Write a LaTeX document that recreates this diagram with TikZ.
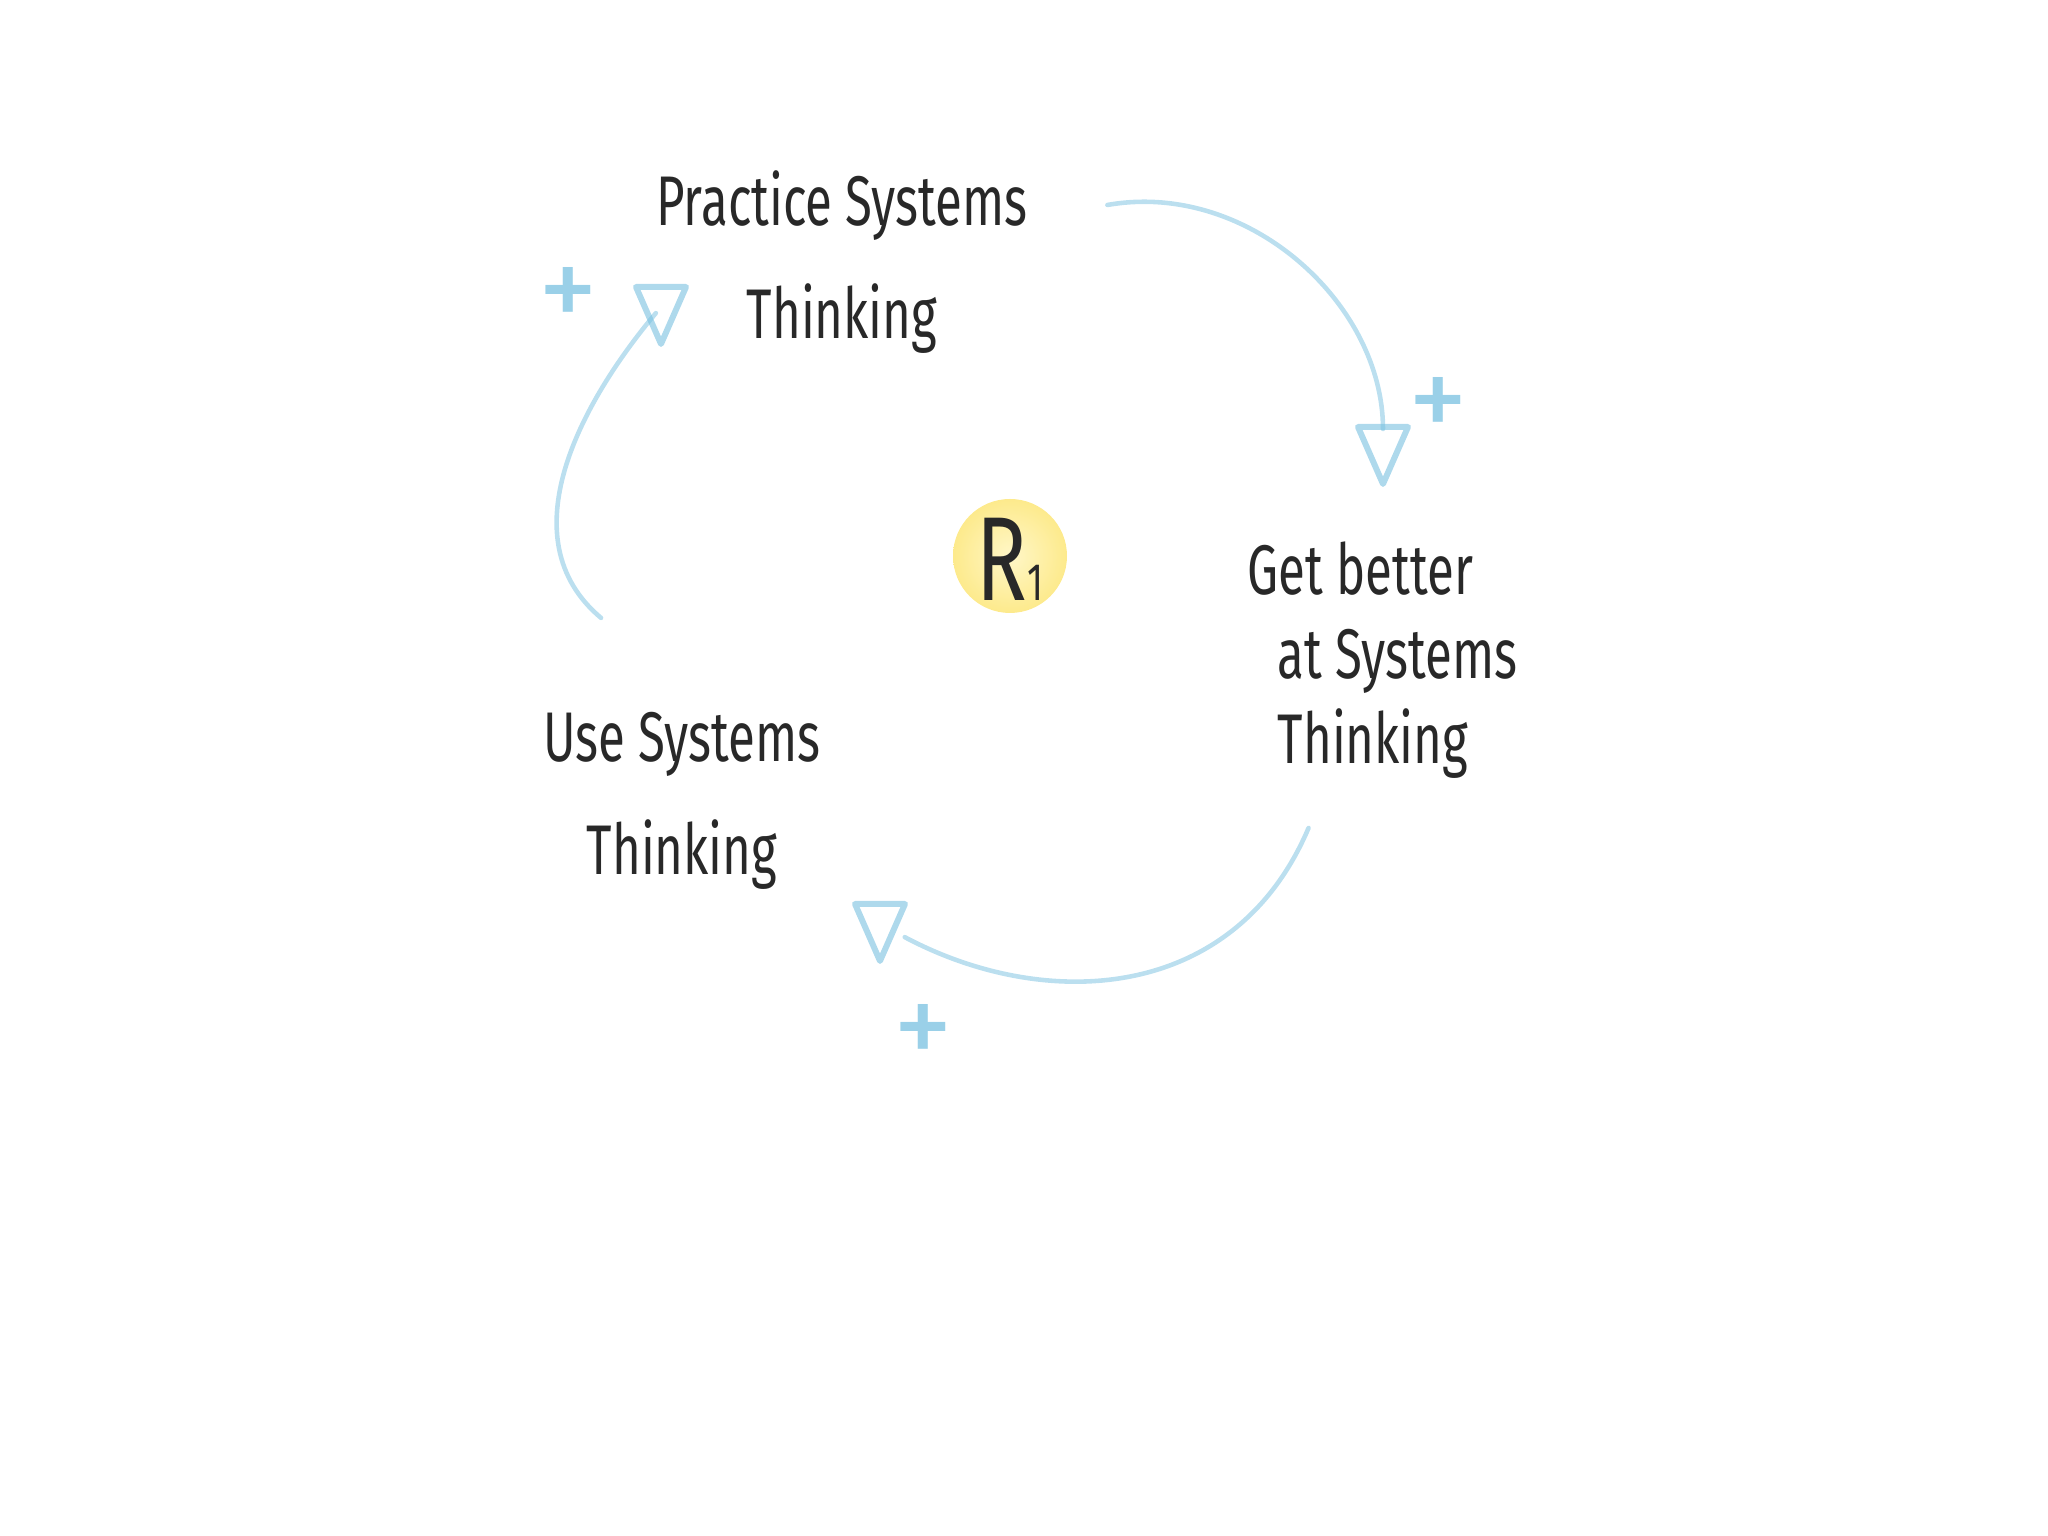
\documentclass[tikz,border=0pt]{standalone}
\usepackage{fontspec}
\setmainfont{Fira Sans}
\newfontfamily\hand[FakeStretch=0.7]{Fira Sans}
\usetikzlibrary{arrows.meta,positioning,calc}
\definecolor{ink}{RGB}{40,40,40}
\definecolor{pencil}{RGB}{120,192,224}
\definecolor{sunlite}{RGB}{255,247,200}
\definecolor{sundeep}{RGB}{253,234,140}

\begin{document}
\begin{tikzpicture}[>=Stealth,font=\hand\fontsize{20}{32}\selectfont]
\useasboundingbox (0,0) rectangle (20.48,15.36);
\tikzstyle{t}=[text=ink,align=center,inner sep=2pt]
\tikzstyle{l}=[pencil,opacity=0.5,line width=1.3pt,line cap=round]
\tikzstyle{plus}=[text=pencil,opacity=0.75,inner sep=0pt,font=\rmfamily\fontsize{34}{34}\selectfont]
\tikzset{head/.pic={\draw[pencil,opacity=0.6,line width=1.7pt,line join=round] (-0.25,0.2) -- (0.25,0.2) -- (0,-0.37) -- cycle;}}
% variables
\node[t] (pst) at (8.42,12.74) {Practice Systems\\Thinking};
\node[t,align=left,anchor=west,font=\hand\fontsize{20}{24}\selectfont] (gbt) at (12.40,8.76) {Get better\\\hspace{0.3cm}at Systems\\\hspace{0.3cm}Thinking};
\node[t] (ust) at (6.82,7.35) {Use Systems\\Thinking};
\node[circle,minimum size=1.14cm,inner sep=0pt,inner color=sunlite,outer color=sundeep,label={[text=ink,font=\hand\fontsize{34}{34}\selectfont,yshift=-1pt]center:R{\fontsize{15}{15}\selectfont 1}}] (r1) at (10.1,9.8) {};
% arrow heads and polarities
\coordinate (h1) at (13.83,10.89); \pic at (h1) {head};
\coordinate (h2) at (8.80,6.12); \pic at (h2) {head};
\coordinate (h3) at (6.61,12.29); \pic at (h3) {head};
\foreach \n/\x/\y in {p1/14.38/11.27,p2/9.23/5.00,p3/5.68/12.37} \node[plus] (\n) at (\x,\y) {+};
% loose ends of the links
\coordinate (t1) at ([shift={(0.72,0.57)}]pst.east);
\coordinate (t2) at ([shift={(-0.74,-0.42)}]gbt.south);
\coordinate (t3) at ([shift={(-0.81,0.87)}]ust.north);
% links
\draw[l,shorten >=0.18cm] (t1) to[out=10,in=90] (h1);
\draw[l,shorten >=0.28cm] (t2) to[out=-113,in=-28,looseness=1.1] (h2);
\draw[l,shorten >=0.08cm] (t3) to[out=140,in=230] (h3);
\end{tikzpicture}
\end{document}
